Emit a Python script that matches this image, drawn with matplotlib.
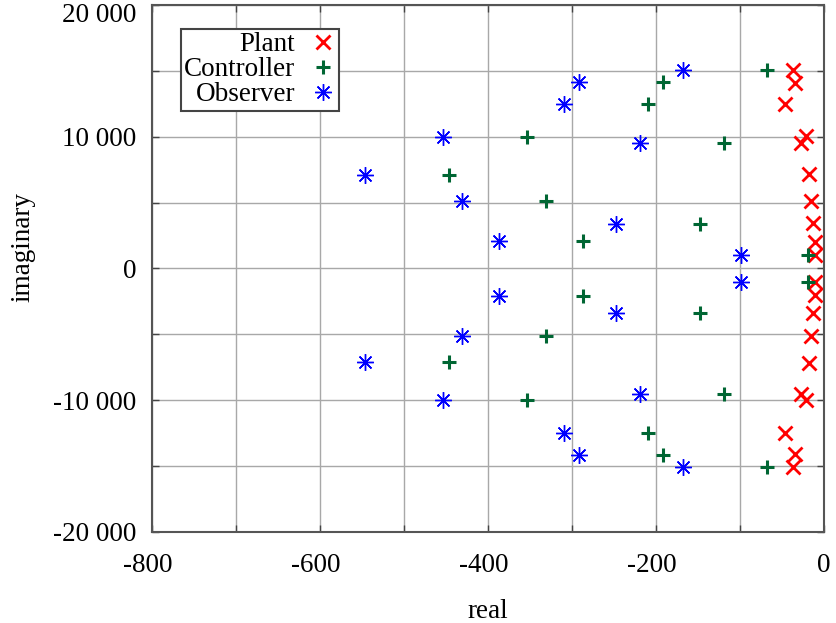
import numpy as np
import matplotlib.pyplot as plt
from matplotlib.ticker import MultipleLocator, FuncFormatter
from matplotlib.transforms import ScaledTranslation

plt.rcParams['font.family'] = ['Liberation Serif', 'DejaVu Serif']

# imaginary parts (positive half, conjugate pairs)
imag = [15050, 14120, 12510, 9990, 9550, 7090, 5140, 3400, 2120, 1060]

plant_re = [-37, -35, -46, -21, -27, -18, -15, -13.5, -10.5, -10.5]
plant_im = [15050, 14100, 12520, 10020, 9500, 7170, 5100, 3415, 2030, 1050]

ctrl_re = [-68, -192, -209, -354, -119, -446, -331, -147, -287, -19]
obs_re = [-168, -292, -310, -454, -219, -546, -431, -248, -387, -99]

FS = 19.5


def conj(re, im):
    re = np.array(re, dtype=float)
    im = np.array(im, dtype=float)
    return np.concatenate([re, re]), np.concatenate([im, -im])


fig = plt.figure(figsize=(8.36, 6.23), dpi=100)
ax = fig.add_axes([0.1818, 0.1461, 0.8038, 0.8459])

x, y = conj(plant_re, plant_im)
ax.plot(x, y, ls='none', marker='x', ms=10.5, mew=2, color='#ff0000', label='Plant')
x, y = conj(ctrl_re, imag)
ax.plot(x, y, ls='none', marker='+', ms=10, mew=2.2, color='#006633', label='Controller')
x, y = conj(obs_re, imag)
ax.plot(x, y, ls='none', marker=(8, 2, 0), ms=12, mew=1, color='#0000ff', label='Observer')

ax.set_xlim(-800, 0)
ax.set_ylim(-20000, 20000)
ax.xaxis.set_major_locator(MultipleLocator(200))
ax.xaxis.set_minor_locator(MultipleLocator(100))
ax.yaxis.set_major_locator(MultipleLocator(10000))
ax.yaxis.set_minor_locator(MultipleLocator(5000))
ax.yaxis.set_major_formatter(FuncFormatter(lambda v, p: f"{int(round(v)):,}".replace(',', ' ')))
ax.xaxis.set_major_formatter(FuncFormatter(lambda v, p: f"{int(round(v))}"))

ax.grid(True, which='both', color='#a8a8a8', lw=1)
ax.set_axisbelow(True)
ax.tick_params(which='both', direction='in', length=5, width=1, color='#444444',
               top=True, right=True, labelsize=FS)
ax.tick_params(axis='x', which='both', pad=15)
ax.tick_params(axis='y', which='both', pad=11)
for s in ax.spines.values():
    s.set_color('#555555')
    s.set_linewidth(1.5)

ax.set_xlabel('real', fontsize=FS, labelpad=15)
ax.set_ylabel('imaginary', fontsize=FS)
ax.yaxis.set_label_coords(-0.174, 0.541)

leg = ax.legend(loc='upper left', bbox_to_anchor=(0.043, 0.954), borderaxespad=0,
                markerfirst=False, fontsize=FS, fancybox=False, framealpha=1,
                edgecolor='#444444', labelspacing=0.0, handlelength=0.95,
                handletextpad=0.55, borderpad=0.12)
leg.get_frame().set_linewidth(1.5)

# label nudges: top y label kept inside the canvas, negative x labels a bit left
fig.canvas.draw()
for lab in ax.get_yticklabels():
    if lab.get_text() == '20 000':
        lab.set_transform(lab.get_transform() + ScaledTranslation(0, -7.5 / 100, fig.dpi_scale_trans))
for lab in ax.get_xticklabels():
    if lab.get_text().startswith('-'):
        lab.set_transform(lab.get_transform() + ScaledTranslation(-4.5 / 100, 0, fig.dpi_scale_trans))

fig.savefig('out.png', dpi=100)
